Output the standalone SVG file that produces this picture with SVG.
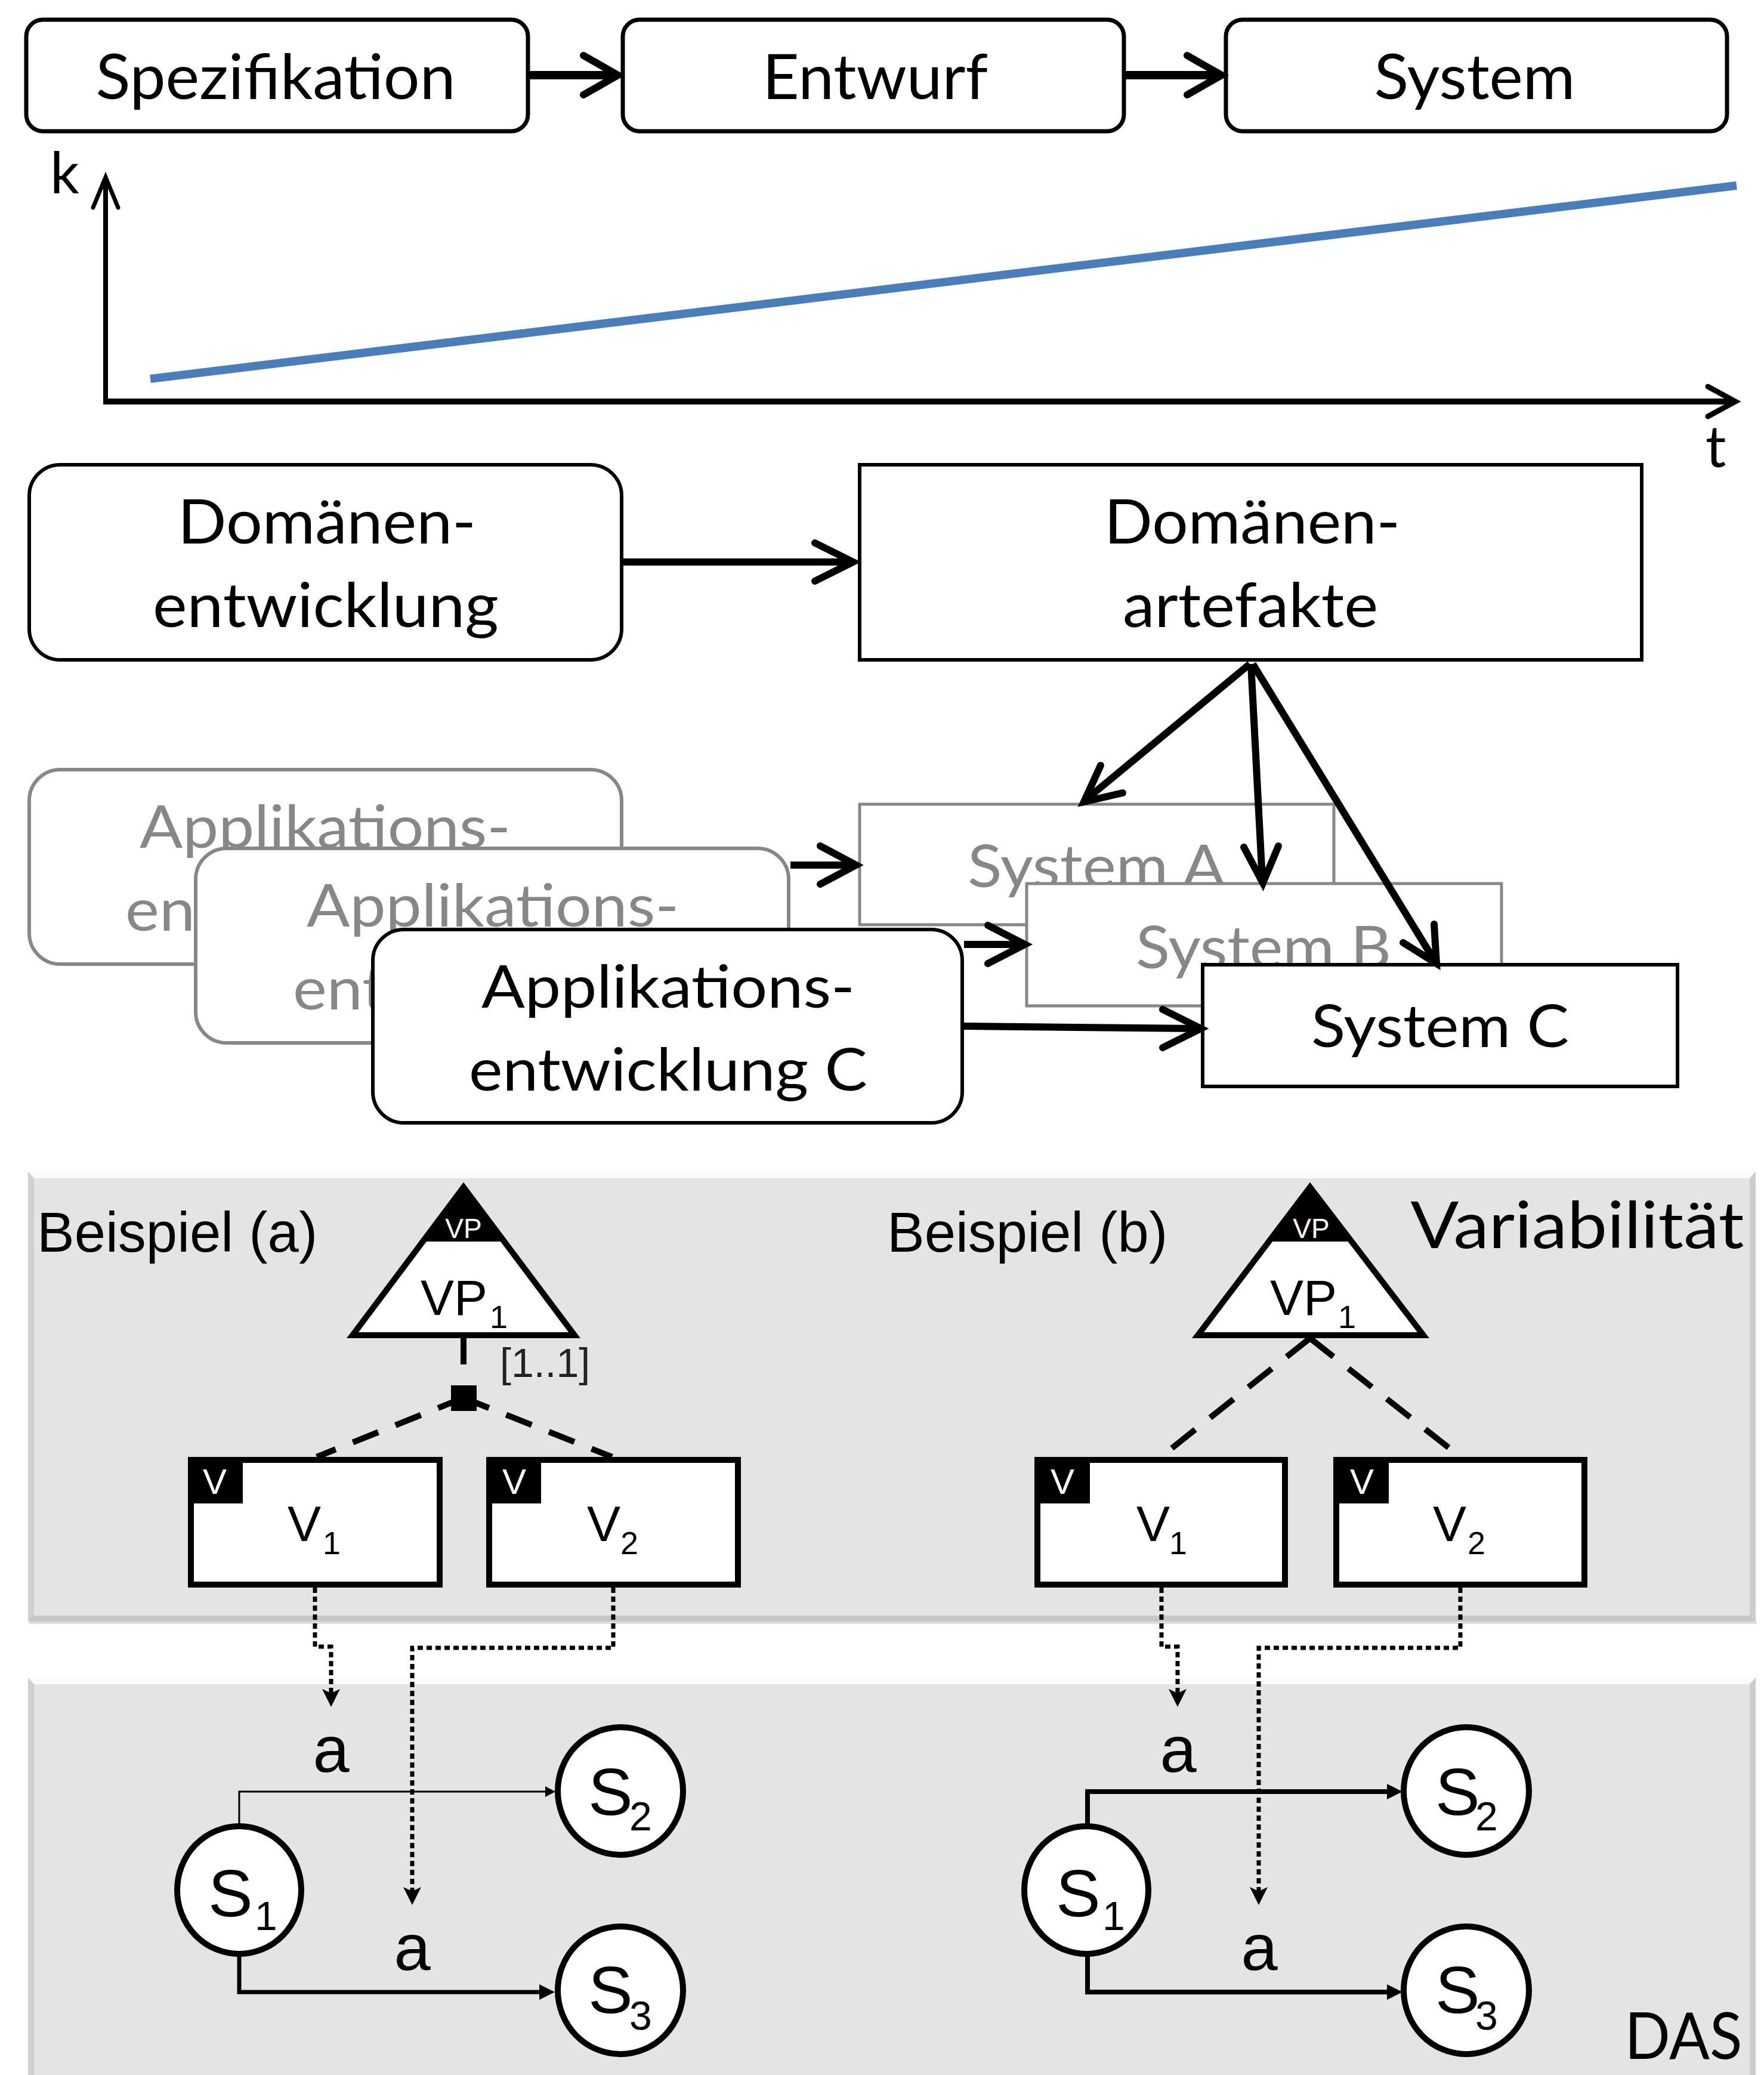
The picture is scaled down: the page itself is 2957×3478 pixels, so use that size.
<svg xmlns="http://www.w3.org/2000/svg" width="2957" height="3478" viewBox="0 0 2957 3478">
<style>
.cal{font-family:Lato,"Open Sans","Liberation Sans",sans-serif;}
.ar{font-family:"Liberation Sans",Arial,sans-serif;}
.box{fill:#fff;stroke:#000;stroke-width:7;}
.gbox{fill:#fff;stroke:#878787;stroke-width:6;}
.gtxt{fill:#878787;}
.shaft{stroke:#000;fill:none;stroke-linecap:butt;}
.chev{stroke:#000;fill:none;stroke-linecap:round;stroke-linejoin:miter;stroke-miterlimit:10;}
.vbox{fill:#fff;stroke:#000;stroke-width:10;}
.state{fill:#fff;stroke:#000;stroke-width:10;}
.dash{stroke:#000;stroke-width:10;fill:none;}
.dot{stroke:#000;stroke-width:7;fill:none;stroke-dasharray:9 6;}
.panel{fill:#e4e4e4;}
</style>
<defs>
<marker id="hThin" markerUnits="userSpaceOnUse" viewBox="0 -9 17 18" refX="0" refY="0" markerWidth="17" markerHeight="18" orient="auto"><path d="M0,-9 L17,0 L0,9 Z" fill="#000"/></marker>
<marker id="hThick" markerUnits="userSpaceOnUse" viewBox="0 -13 26 26" refX="0" refY="0" markerWidth="26" markerHeight="26" orient="auto"><path d="M0,-13 L26,0 L0,13 Z" fill="#000"/></marker>
<marker id="hDot" markerUnits="userSpaceOnUse" viewBox="-12 -16 34 32" refX="0" refY="0" markerWidth="34" markerHeight="32" orient="auto"><path d="M-10,-15 L20,0 L-10,15 L-3,0 Z" fill="#000"/></marker>
</defs>
<rect width="2957" height="3478" fill="#fff"/>

<!-- panels -->
<g id="panel-variabilitaet">
<rect x="47" y="1964" width="2896" height="754" class="panel"/>
<polygon points="47,1964 2943,1964 2933,1975 57,1975" fill="#fbfbfb"/>
<polygon points="47,1964 57,1975 57,2708 47,2718" fill="#d0d0d0"/>
<polygon points="2943,1964 2933,1975 2933,2708 2943,2718" fill="#cccccc"/>
<polygon points="47,2718 57,2708 2933,2708 2943,2718" fill="#c6c6c6"/>
<rect x="49" y="2718" width="2896" height="4" fill="#dedede"/>
<text x="2644" y="2092" class="cal" font-size="108" text-anchor="middle" textLength="559" lengthAdjust="spacingAndGlyphs">Variabilität</text>
</g>
<g id="panel-das">
<rect x="47" y="2812" width="2896" height="680" class="panel"/>
<polygon points="47,2812 2943,2812 2933,2823 57,2823" fill="#fbfbfb"/>
<polygon points="47,2812 57,2823 57,3478 47,3478" fill="#d0d0d0"/>
<polygon points="2943,2812 2933,2823 2933,3478 2943,3478" fill="#cccccc"/>
<text x="2822" y="3451" class="cal" font-size="108" text-anchor="middle" textLength="197" lengthAdjust="spacingAndGlyphs">DAS</text>
</g>

<!-- top row -->
<g id="spezifikation">
<rect x="44" y="33" width="841" height="187" rx="28" class="box"/>
<text x="462" y="166" class="cal" font-size="104" text-anchor="middle" textLength="603" lengthAdjust="spacingAndGlyphs">Spezifikation</text>
</g>
<g id="entwurf">
<rect x="1044" y="33" width="840" height="187" rx="28" class="box"/>
<text x="1467" y="166" class="cal" font-size="104" text-anchor="middle" textLength="378" lengthAdjust="spacingAndGlyphs">Entwurf</text>
</g>
<g id="system">
<rect x="2055" y="33" width="840" height="187" rx="28" class="box"/>
<text x="2472" y="166" class="cal" font-size="104" text-anchor="middle" textLength="337" lengthAdjust="spacingAndGlyphs">System</text>
</g>

<!-- chart -->
<g id="chart">
<line x1="252" y1="635" x2="2911" y2="311" stroke="#4a7ebb" stroke-width="14"/>
<text x="84" y="324" class="cal" font-size="96">k</text>
<text x="2859" y="783" class="cal" font-size="96">t</text>
</g>

<!-- domain engineering -->
<g id="domaenenentwicklung">
<rect x="49" y="779" width="993" height="327" rx="52" class="box" style="stroke-width:6"/>
<text x="548" y="911" class="cal" font-size="102" text-anchor="middle" textLength="500" lengthAdjust="spacingAndGlyphs">Domänen-</text>
<text x="546" y="1051" class="cal" font-size="102" text-anchor="middle" textLength="580" lengthAdjust="spacingAndGlyphs">entwicklung</text>
</g>
<g id="domaenenartefakte">
<rect x="1441" y="779" width="1311" height="327" class="box" style="stroke-width:6"/>
<text x="2099" y="911" class="cal" font-size="102" text-anchor="middle" textLength="496" lengthAdjust="spacingAndGlyphs">Domänen-</text>
<text x="2096" y="1051" class="cal" font-size="102" text-anchor="middle" textLength="428" lengthAdjust="spacingAndGlyphs">artefakte</text>
</g>

<!-- systems -->
<g id="system-a">
<rect x="1441" y="1348" width="795" height="202" class="gbox" style="stroke-width:5"/>
<text x="1838" y="1487" class="cal gtxt" font-size="98" text-anchor="middle" textLength="432" lengthAdjust="spacingAndGlyphs">System A</text>
</g>
<g id="system-b">
<rect x="1721" y="1481" width="796" height="205" class="gbox" style="stroke-width:5"/>
<text x="2118" y="1623" class="cal gtxt" font-size="98" text-anchor="middle" textLength="428" lengthAdjust="spacingAndGlyphs">System B</text>
</g>
<g id="system-c">
<rect x="2016" y="1617" width="796" height="204" class="box" style="stroke-width:6"/>
<text x="2414" y="1755" class="cal" font-size="98" text-anchor="middle" textLength="432" lengthAdjust="spacingAndGlyphs">System C</text>
</g>

<!-- application engineering -->
<g id="applikation-a">
<rect x="49" y="1290" width="993" height="326" rx="52" class="gbox"/>
<text x="545" y="1421" class="cal gtxt" font-size="98" text-anchor="middle" textLength="622" lengthAdjust="spacingAndGlyphs">Applikations-</text>
<text x="545" y="1560" class="cal gtxt" font-size="98" text-anchor="middle" textLength="670" lengthAdjust="spacingAndGlyphs">entwicklung A</text>
</g>
<g id="applikation-b">
<rect x="328" y="1422" width="994" height="326" rx="52" class="gbox"/>
<text x="826" y="1553" class="cal gtxt" font-size="98" text-anchor="middle" textLength="624" lengthAdjust="spacingAndGlyphs">Applikations-</text>
<text x="826" y="1692" class="cal gtxt" font-size="98" text-anchor="middle" textLength="670" lengthAdjust="spacingAndGlyphs">entwicklung B</text>
</g>
<g id="applikation-c">
<rect x="625" y="1558" width="988" height="324" rx="52" class="box" style="stroke-width:6"/>
<text x="1120" y="1689" class="cal" font-size="98" text-anchor="middle" textLength="626" lengthAdjust="spacingAndGlyphs">Applikations-</text>
<text x="1120" y="1828" class="cal" font-size="98" text-anchor="middle" textLength="668" lengthAdjust="spacingAndGlyphs">entwicklung C</text>
</g>

<!-- Beispiel labels -->
<g id="label-a"><text x="62" y="2098" class="ar" font-size="94">Beispiel (a)</text></g>
<g id="label-b"><text x="1487" y="2098" class="ar" font-size="94">Beispiel (b)</text></g>

<!-- VP (a) -->
<g id="vp1-a">
<polygon points="777,1990 591,2238 963,2238" fill="#fff" stroke="#000" stroke-width="10" stroke-linejoin="miter"/>
<polygon points="777,1982 703,2081 851,2081" fill="#000"/>
<text x="777" y="2075" class="ar" font-size="46" fill="#fff" text-anchor="middle">VP</text>
<text x="705" y="2204" class="ar" font-size="84">VP</text>
<text x="821" y="2226" class="ar" font-size="54">1</text>
<line x1="777" y1="2243" x2="777" y2="2287" stroke="#000" stroke-width="10"/>
<rect x="756" y="2322" width="43" height="43" fill="#000"/>
<text x="838" y="2308" class="ar" font-size="68" fill="#222">[1..1]</text>
</g>
<g id="v1-a">
<rect x="320" y="2447" width="417" height="209" class="vbox"/>
<rect x="320" y="2447" width="87" height="73" fill="#000"/>
<text x="340" y="2504" class="ar" font-size="60" fill="#fff">V</text>
<text x="482" y="2583" class="ar" font-size="84">V</text>
<text x="541" y="2605" class="ar" font-size="54">1</text>
</g>
<g id="v2-a">
<rect x="820" y="2447" width="417" height="209" class="vbox"/>
<rect x="820" y="2447" width="87" height="73" fill="#000"/>
<text x="842" y="2504" class="ar" font-size="60" fill="#fff">V</text>
<text x="984" y="2583" class="ar" font-size="84">V</text>
<text x="1040" y="2605" class="ar" font-size="54">2</text>
</g>

<!-- VP (b) -->
<g id="vp1-b">
<polygon points="2196,1990 2008,2238 2386,2238" fill="#fff" stroke="#000" stroke-width="10" stroke-linejoin="miter"/>
<polygon points="2196,1982 2121,2081 2271,2081" fill="#000"/>
<text x="2198" y="2075" class="ar" font-size="46" fill="#fff" text-anchor="middle">VP</text>
<text x="2129" y="2204" class="ar" font-size="84">VP</text>
<text x="2243" y="2226" class="ar" font-size="54">1</text>
</g>
<g id="v1-b">
<rect x="1739" y="2447" width="415" height="209" class="vbox"/>
<rect x="1739" y="2447" width="88" height="73" fill="#000"/>
<text x="1761" y="2504" class="ar" font-size="60" fill="#fff">V</text>
<text x="1905" y="2583" class="ar" font-size="84">V</text>
<text x="1960" y="2605" class="ar" font-size="54">1</text>
</g>
<g id="v2-b">
<rect x="2240" y="2447" width="416" height="209" class="vbox"/>
<rect x="2240" y="2447" width="88" height="73" fill="#000"/>
<text x="2263" y="2504" class="ar" font-size="60" fill="#fff">V</text>
<text x="2402" y="2583" class="ar" font-size="84">V</text>
<text x="2460" y="2605" class="ar" font-size="54">2</text>
</g>

<!-- states (a) -->
<g id="s1-a">
<ellipse cx="401" cy="3168" rx="104" ry="107" class="state"/>
<text x="349" y="3212" class="ar" font-size="112">S</text>
<text x="427" y="3235" class="ar" font-size="68">1</text>
</g>
<g id="s2-a">
<ellipse cx="1040" cy="3002" rx="105" ry="107" class="state"/>
<text x="986" y="3042" class="ar" font-size="112">S</text>
<text x="1055" y="3068" class="ar" font-size="68">2</text>
</g>
<g id="s3-a">
<ellipse cx="1040" cy="3336" rx="105" ry="107" class="state"/>
<text x="986" y="3374" class="ar" font-size="112">S</text>
<text x="1055" y="3402" class="ar" font-size="68">3</text>
</g>
<!-- states (b) -->
<g id="s1-b">
<ellipse cx="1821" cy="3168" rx="104" ry="107" class="state"/>
<text x="1770" y="3212" class="ar" font-size="112">S</text>
<text x="1848" y="3235" class="ar" font-size="68">1</text>
</g>
<g id="s2-b">
<ellipse cx="2458" cy="3002" rx="105" ry="107" class="state"/>
<text x="2406" y="3042" class="ar" font-size="112">S</text>
<text x="2473" y="3068" class="ar" font-size="68">2</text>
</g>
<g id="s3-b">
<ellipse cx="2458" cy="3336" rx="105" ry="107" class="state"/>
<text x="2406" y="3374" class="ar" font-size="112">S</text>
<text x="2473" y="3402" class="ar" font-size="68">3</text>
</g>

<!-- connectors -->
<g id="connectors">
<!-- top flow -->
<line x1="888" y1="126" x2="1032" y2="126" class="shaft" stroke-width="14"/>
<polyline points="978,93 1036,126 978,159" class="chev" stroke-width="12"/>
<line x1="1887" y1="126" x2="2044" y2="126" class="shaft" stroke-width="14"/>
<polyline points="1990,93 2048,126 1990,159" class="chev" stroke-width="12"/>
<!-- axes -->
<line x1="177" y1="678" x2="177" y2="302" class="shaft" stroke-width="8"/>
<polyline points="156,348 177,297 198,348" class="chev" stroke-width="7"/>
<line x1="173" y1="673" x2="2905" y2="673" class="shaft" stroke-width="10"/>
<polyline points="2863,648 2909,673 2863,698" class="chev" stroke-width="9"/>
<!-- domain -->
<line x1="1045" y1="942" x2="1424" y2="942" class="shaft" stroke-width="12"/>
<polyline points="1366,910 1430,942 1366,974" class="chev" stroke-width="12"/>
<line x1="2095" y1="1113" x2="1822" y2="1339" class="shaft" stroke-width="12"/>
<polyline points="1845,1283 1817,1344 1882,1329" class="chev" stroke-width="12"/>
<line x1="2097" y1="1113" x2="2116" y2="1474" class="shaft" stroke-width="12"/>
<polyline points="2085,1420 2117,1480 2143,1418" class="chev" stroke-width="12"/>
<line x1="2100" y1="1113" x2="2404" y2="1609" class="shaft" stroke-width="12"/>
<polyline points="2352,1580 2408,1615 2404,1549" class="chev" stroke-width="12"/>
<!-- application -->
<line x1="1325" y1="1450" x2="1428" y2="1450" class="shaft" stroke-width="12"/>
<polyline points="1375,1418 1435,1450 1375,1482" class="chev" stroke-width="12"/>
<line x1="1616" y1="1583" x2="1711" y2="1583" class="shaft" stroke-width="12"/>
<polyline points="1656,1551 1718,1583 1656,1615" class="chev" stroke-width="12"/>
<line x1="1616" y1="1720" x2="2006" y2="1724" class="shaft" stroke-width="12"/>
<polyline points="1949,1692 2013,1724 1949,1756" class="chev" stroke-width="12"/>
<!-- VP to V (a) -->
<line x1="777" y1="2343" x2="531" y2="2442" class="dash" stroke-dasharray="46 31"/>
<line x1="777" y1="2343" x2="1026" y2="2442" class="dash" stroke-dasharray="46 31"/>
<!-- VP to V (b) -->
<line x1="2196" y1="2243" x2="1946" y2="2442" class="dash" stroke-dasharray="50 32"/>
<line x1="2196" y1="2243" x2="2448" y2="2442" class="dash" stroke-dasharray="50 32"/>
<!-- transitions (a) -->
<path d="M401,3061 V3003 H914" fill="none" stroke="#000" stroke-width="3" marker-end="url(#hThin)"/>
<path d="M401,3275 V3339 H904" fill="none" stroke="#000" stroke-width="7" marker-end="url(#hThick)"/>
<!-- transitions (b) -->
<path d="M1823,3061 V3003 H2325" fill="none" stroke="#000" stroke-width="8" marker-end="url(#hThick)"/>
<path d="M1823,3275 V3339 H2325" fill="none" stroke="#000" stroke-width="8" marker-end="url(#hThick)"/>
<!-- dotted realisation (a) -->
<path d="M528,2661 V2760 H555 V2841" class="dot" marker-end="url(#hDot)"/>
<path d="M1028,2661 V2762 H691 V3173" class="dot" marker-end="url(#hDot)"/>
<!-- dotted realisation (b) -->
<path d="M1947,2661 V2760 H1974 V2841" class="dot" marker-end="url(#hDot)"/>
<path d="M2448,2661 V2762 H2110 V3173" class="dot" marker-end="url(#hDot)"/>
</g>

<!-- transition labels -->
<g id="labels-a">
<text x="555" y="2970" class="ar" font-size="110" text-anchor="middle">a</text>
<text x="691" y="3302" class="ar" font-size="110" text-anchor="middle">a</text>
</g>
<g id="labels-b">
<text x="1975" y="2970" class="ar" font-size="110" text-anchor="middle">a</text>
<text x="2111" y="3302" class="ar" font-size="110" text-anchor="middle">a</text>
</g>
</svg>
